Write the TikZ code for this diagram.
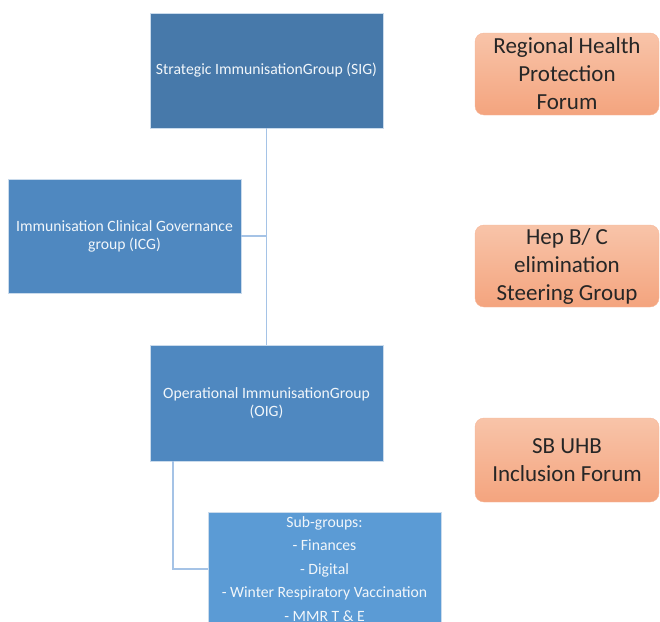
\documentclass[tikz,border=0pt]{standalone}
\usepackage{fontspec}
\setmainfont{Carlito}
\definecolor{sigblue}{HTML}{4779AA}
\definecolor{midblue}{HTML}{4F88C0}
\definecolor{subblue}{HTML}{5B9BD5}
\definecolor{linkblue}{HTML}{A5C3E6}
\definecolor{peachtop}{HTML}{F8C4A9}
\definecolor{peachbot}{HTML}{F4A47E}
\definecolor{darktext}{HTML}{262626}
\tikzset{
  group/.style={rectangle, draw=white!70!midblue, line width=0.6pt, fill=midblue,
    text=white!92!midblue, align=center, minimum width=233pt, inner sep=2pt,
    font=\fontsize{15.7}{18}\selectfont},
  forum/.style={rectangle, rounded corners=9pt, draw=peachbot!80!white, line width=0.4pt,
    top color=peachtop, bottom color=peachbot, text=darktext, align=center,
    minimum width=184pt, inner sep=1pt, font=\fontsize{23}{28}\selectfont},
  link/.style={draw=linkblue, line width=1.6pt}
}
\begin{document}
\begin{tikzpicture}[x=1pt,y=-1pt]
  \useasboundingbox (0,0) rectangle (660,621);
  \clip (0,0) rectangle (660,621);
  % governance groups
  \node[group, fill=sigblue, minimum height=115pt] (sig) at (266.5,70.5) {Strategic ImmunisationGroup (SIG)};
  \node[group, minimum height=114pt] (icg) at (124.5,236) {Immunisation Clinical Governance\\group (ICG)};
  \node[group, minimum height=116pt] (oig) at (266.5,403) {Operational ImmunisationGroup\\(OIG)};
  \node[group, fill=subblue, minimum height=114pt, font=\fontsize{15.7}{23.5}\selectfont] (sub) at (324.5,569)
    {Sub-groups:\\- Finances\\- Digital\\- Winter Respiratory Vaccination\\- MMR T \& E};
  % forums
  \node[forum, minimum height=82pt] (rhp) at (567,74) {Regional Health\\Protection\\Forum};
  \node[forum, minimum height=82pt] (hep) at (567,266) {Hep B/ C\\elimination\\Steering Group};
  \node[forum, minimum height=84pt] (inc) at (567,460) {SB UHB\\Inclusion Forum};
  % links
  \draw[link] (sig.south) -- (oig.north);
  \draw[link] (icg.east) -- (icg.east -| sig.south);
  \draw[link] ([xshift=23pt]oig.south west) |- (sub.west);
\end{tikzpicture}
\end{document}
